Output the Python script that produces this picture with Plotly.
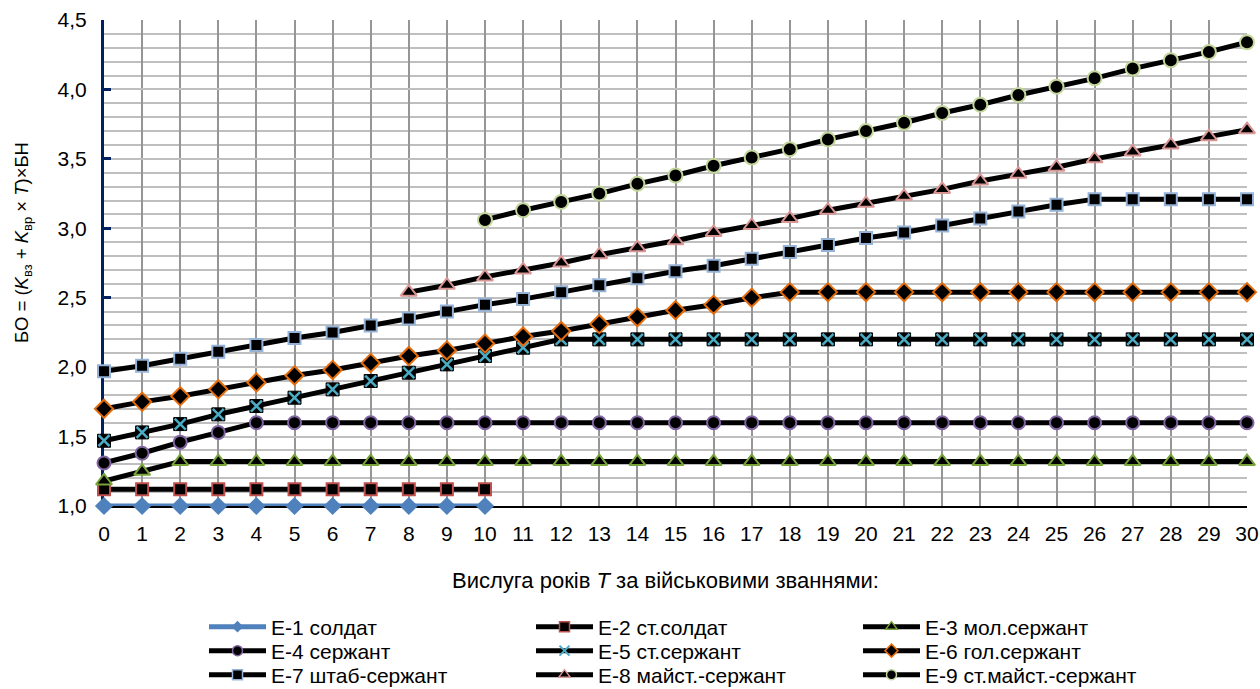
import plotly.graph_objects as go

T_all = list(range(0, 31))
T_e1 = list(range(0, 11))
T_e8 = list(range(8, 31))
T_e9 = list(range(10, 31))

e1 = [1.00] * 11
e2 = [1.12] * 11
e3 = [1.18, 1.25] + [1.32] * 29
e4 = [1.31, 1.38, 1.46, 1.53] + [1.60] * 27
e5 = [1.47, 1.53, 1.59, 1.66, 1.72, 1.78, 1.84, 1.90, 1.96, 2.02, 2.08, 2.14] + [2.20] * 19
e6 = [1.70, 1.75, 1.79, 1.84, 1.89, 1.94, 1.98, 2.03, 2.08, 2.12, 2.17, 2.22, 2.26, 2.31,
      2.36, 2.41, 2.45, 2.50] + [2.54] * 13
e7 = [1.97, 2.01, 2.06, 2.11, 2.16, 2.21, 2.25, 2.30, 2.35, 2.40, 2.45, 2.49, 2.54, 2.59,
      2.64, 2.69, 2.73, 2.78, 2.83, 2.88, 2.93, 2.97, 3.02, 3.07, 3.12, 3.17, 3.21,
      3.21, 3.21, 3.21, 3.21]
e8 = [2.54, 2.59, 2.65, 2.70, 2.75, 2.81, 2.86, 2.91, 2.97, 3.02, 3.07, 3.13, 3.18, 3.23,
      3.28, 3.34, 3.39, 3.44, 3.50, 3.55, 3.60, 3.66, 3.71]
e9 = [3.06, 3.13, 3.19, 3.25, 3.32, 3.38, 3.45, 3.51, 3.57, 3.64, 3.70, 3.76, 3.83, 3.89,
      3.96, 4.02, 4.08, 4.15, 4.21, 4.27, 4.34]

names = ["Е-1 солдат", "Е-2 ст.солдат", "Е-3 мол.сержант",
         "Е-4 сержант", "Е-5 ст.сержант", "Е-6 гол.сержант",
         "Е-7 штаб-сержант", "Е-8 майст.-сержант", "Е-9 ст.майст.-сержант"]

FONT = "Liberation Sans, Arial, sans-serif"
FS = 21
BLACK = "#000000"
LW = 5

fig = go.Figure()

# (symbol, fill, border, line colour, size) per series
styles = [
    ("diamond", "#4F81BD", "#4F81BD", "#4F81BD", 14),
    ("square", BLACK, "#C0504D", BLACK, 12),
    ("triangle-up", BLACK, "#77A33A", BLACK, 14),
    ("circle", BLACK, "#8064A2", BLACK, 13),
    ("square", BLACK, BLACK, BLACK, 13),
    ("diamond", BLACK, "#E46C0A", BLACK, 14),
    ("square", BLACK, "#95B3D7", BLACK, 12),
    ("triangle-up", BLACK, "#D99694", BLACK, 14),
    ("circle", BLACK, "#C3D69B", BLACK, 14),
]
xs = [T_e1, T_e1, T_all, T_all, T_all, T_all, T_all, T_e8, T_e9]
ys = [e1, e2, e3, e4, e5, e6, e7, e8, e9]

for i, (sym, fill, border, lc, size) in enumerate(styles):
    fig.add_trace(go.Scatter(
        x=xs[i], y=ys[i], name=names[i], mode="lines+markers",
        line=dict(color=lc, width=LW),
        marker=dict(symbol=sym, size=size, color=fill,
                    line=dict(color=border, width=0 if i == 0 else (1 if i == 4 else 2))),
        cliponaxis=False, showlegend=False,
    ))
    if i == 4:
        fig.add_trace(go.Scatter(
            x=xs[i], y=ys[i], mode="markers", showlegend=False, cliponaxis=False,
            marker=dict(symbol="x-thin-open", size=11, color="#4BACC6",
                        line=dict(color="#4BACC6", width=2.5)),
        ))

# legend entries (smaller symbols like the original legend)
for i, (sym, fill, border, lc, size) in enumerate(styles):
    if i == 4:
        mk = dict(symbol="x-thin-open", size=10, color="#4BACC6", line=dict(color="#4BACC6", width=2))
    elif i == 0:
        mk = dict(symbol="diamond", size=9, color="#4F81BD", line=dict(width=0))
    else:
        mk = dict(symbol=sym, size=10, color=fill, line=dict(color=border, width=1.5))
    fig.add_trace(go.Scatter(
        x=[None], y=[None], name=names[i], mode="lines+markers",
        line=dict(color=lc, width=LW), marker=mk,
        legendrank=i + 1, legend=["legend", "legend2", "legend3"][i // 3],
    ))

L, R, TOP, B = 104, 13, 20, 183
W, H = 1260, 689
pw = W - L - R
ph = H - TOP - B
bottom_px = TOP + ph


def px_x(px):
    return (px - L) / pw


def px_y(py):
    return -(py - bottom_px) / ph


def legend_row(py):
    return dict(
        orientation="h", x=px_x(204), xanchor="left",
        y=px_y(py), yanchor="middle",
        entrywidth=255, entrywidthmode="pixels",
        itemwidth=57, font=dict(size=FS, family=FONT), tracegroupgap=0,
        bgcolor="rgba(0,0,0,0)",
    )


fig.update_layout(
    width=W, height=H,
    margin=dict(l=L, r=R, t=TOP, b=B, autoexpand=False),
    paper_bgcolor="white", plot_bgcolor="white",
    separators=", ",
    font=dict(family=FONT, size=FS, color="#000000"),
    xaxis=dict(
        range=[0, 30], tickmode="linear", tick0=0, dtick=1,
        showgrid=True, gridcolor="#969696", gridwidth=1.5,
        showline=True, linecolor=BLACK, linewidth=2,
        ticks="", tickfont=dict(size=FS), zeroline=False,
        ticklabelstandoff=8,
        layer="below traces", fixedrange=True,
    ),
    yaxis=dict(
        range=[1, 4.5], tickmode="linear", tick0=1, dtick=0.5, tickformat=".1f",
        showgrid=True, gridcolor="#BFBFBF", gridwidth=1.5,
        minor=dict(dtick=0.1, showgrid=True, gridcolor="#BFBFBF", gridwidth=1.5),
        showline=True, linecolor="#002060", linewidth=3,
        ticks="inside", ticklen=7, tickwidth=3, tickcolor="#002060",
        tickfont=dict(size=FS), zeroline=False,
        ticklabelstandoff=10,
        layer="below traces", fixedrange=True,
    ),
    legend=legend_row(627),
    legend2=legend_row(651),
    legend3=legend_row(675),
    annotations=[
        dict(
            text="Вислуга років <i>T</i> за військовими званнями:",
            xref="paper", yref="paper", x=px_x(665), y=px_y(580),
            xanchor="center", yanchor="middle", showarrow=False, font=dict(size=22),
        ),
        dict(
            text="БО = (<i>K</i><sub>вз</sub> + <i>K</i><sub>вр</sub> × <i>T</i>)×БН",
            xref="paper", yref="paper", x=px_x(23), y=px_y(243),
            xanchor="center", yanchor="middle", showarrow=False, textangle=-90,
            font=dict(size=18.5),
        ),
    ],
)

fig.write_html(
    "out.html",
    config={"displayModeBar": False},
    post_script="document.body.style.margin='0';document.body.style.overflow='hidden';",
)
